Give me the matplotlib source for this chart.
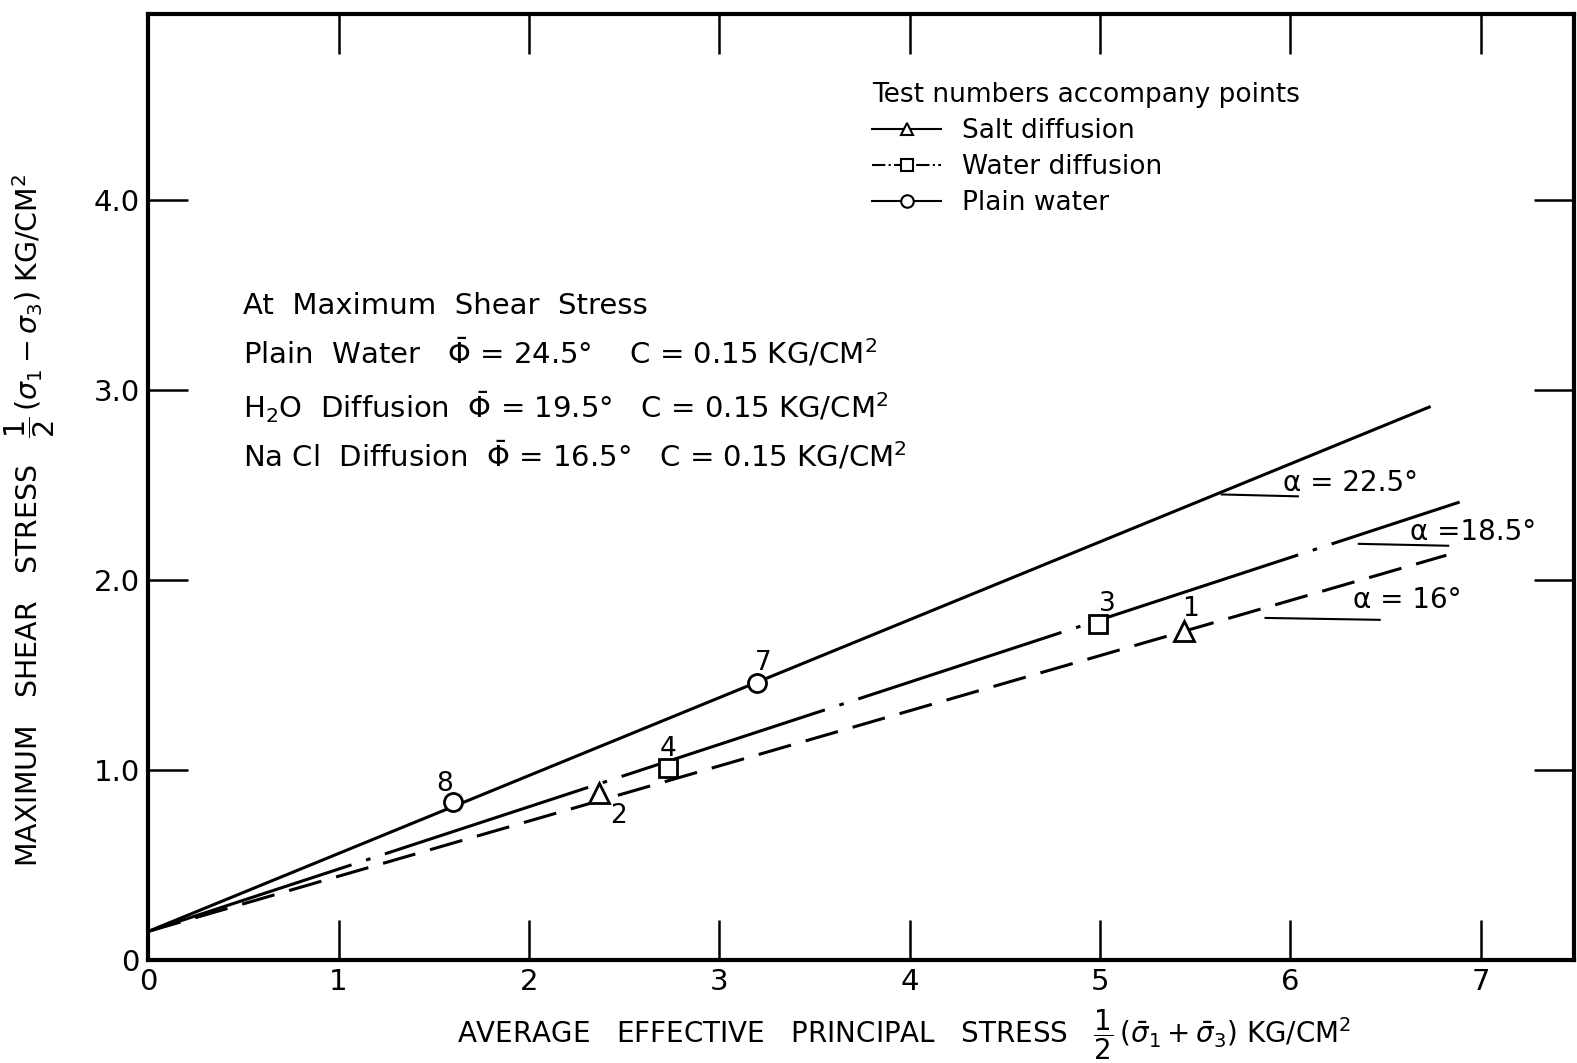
import matplotlib
matplotlib.use('Agg')
import matplotlib.pyplot as plt
from matplotlib.lines import Line2D

plt.rcParams['font.family'] = ['DejaVu Sans']
plt.rcParams['mathtext.fontset'] = 'dejavusans'

# fitted lines (start / end)
water_x = [0.0, 6.73]
water_y = [0.15, 2.91]
h2o_x = [0.0, 6.89]
h2o_y = [0.15, 2.41]
salt_x = [0.0, 6.82]
salt_y = [0.15, 2.13]

# test points
plain_pts_x = [1.60, 3.20]
plain_pts_y = [0.83, 1.46]
plain_tests = ['8', '7']
h2o_pts_x = [2.73, 4.99]
h2o_pts_y = [1.01, 1.77]
h2o_tests = ['4', '3']
salt_pts_x = [2.37, 5.44]
salt_pts_y = [0.88, 1.73]
salt_tests = ['2', '1']

alpha_labels = ['α = 22.5°', 'α =18.5°', 'α = 16°']

# label offsets from the markers (points)
plain_off = [(-6, 13), (4, 14)]
h2o_off = [(0, 14), (7, 14)]
salt_off = [(14, -17), (5, 16)]

fig = plt.figure(figsize=(15.77, 10.63), dpi=100)
ax = fig.add_axes([0.094, 0.097, 0.904, 0.89])

ax.plot(water_x, water_y, color='k', lw=2.2, zorder=2)
ax.plot(h2o_x, h2o_y, color='k', lw=2.2, dashes=(70, 5, 1.5, 5), zorder=2)
ax.plot(salt_x, salt_y, color='k', lw=2.2, dashes=(11, 5), zorder=2)

ax.plot(plain_pts_x, plain_pts_y, 'o', ms=13, mfc='white', mec='k', mew=2, zorder=3)
ax.plot(h2o_pts_x, h2o_pts_y, 's', ms=13, mfc='white', mec='k', mew=2, zorder=3)
ax.plot(salt_pts_x, salt_pts_y, '^', ms=14, mfc='white', mec='k', mew=2, zorder=3)

for xs, ys, labs, offs in [(plain_pts_x, plain_pts_y, plain_tests, plain_off),
                           (h2o_pts_x, h2o_pts_y, h2o_tests, h2o_off),
                           (salt_pts_x, salt_pts_y, salt_tests, salt_off)]:
    for x, y, t, o in zip(xs, ys, labs, offs):
        ax.annotate(t, (x, y), xytext=o, textcoords='offset points',
                    ha='center', va='center', fontsize=19)

# angle notes
ax.plot([5.64, 6.04], [2.45, 2.44], color='k', lw=1.5)
ax.text(5.96, 2.47, alpha_labels[0], fontsize=20)
ax.plot([6.36, 6.83], [2.19, 2.18], color='k', lw=1.5)
ax.text(6.63, 2.21, alpha_labels[1], fontsize=20)
ax.plot([5.87, 6.47], [1.80, 1.79], color='k', lw=1.5)
ax.text(6.33, 1.85, alpha_labels[2], fontsize=20)

# strength parameters
ax.text(0.5, 3.40, 'At  Maximum  Shear  Stress', fontsize=21)
ax.text(0.5, 3.137, r'Plain  Water   $\bar{\Phi}$ = 24.5°    C = 0.15 KG/CM$^2$', fontsize=21)
ax.text(0.5, 2.853, r'H$_2$O  Diffusion  $\bar{\Phi}$ = 19.5°   C = 0.15 KG/CM$^2$', fontsize=21)
ax.text(0.5, 2.595, r'Na Cl  Diffusion  $\bar{\Phi}$ = 16.5°   C = 0.15 KG/CM$^2$', fontsize=21)

handles = [
    Line2D([], [], color='k', lw=1.5, ls='-', marker='^', ms=8, mfc='white', mew=1.5),
    Line2D([], [], color='k', lw=1.5, ls='-.', marker='s', ms=8, mfc='white', mew=1.5),
    Line2D([], [], color='k', lw=1.5, ls='-', marker='o', ms=9, mfc='white', mew=1.5),
]
leg = ax.legend(handles, ['Salt diffusion', 'Water diffusion', 'Plain water'],
                title='Test numbers accompany points', title_fontsize=19, fontsize=19,
                loc='upper left', bbox_to_anchor=(0.508, 0.928), frameon=False,
                borderpad=0, borderaxespad=0, handlelength=2.6, handletextpad=0.8,
                labelspacing=0.38, alignment='left')

ax.set_xlim(0, 7.49)
ax.set_ylim(0, 4.98)
ax.set_xticks(range(8))
ax.set_xticklabels([str(i) for i in range(8)])
ax.set_yticks([0, 1, 2, 3, 4])
ax.set_yticklabels(['0', '1.0', '2.0', '3.0', '4.0'])
ax.tick_params(direction='in', length=29, width=1.8, labelsize=21,
               top=True, right=True, pad=6)

for s in ax.spines.values():
    s.set_linewidth(3)

ax.set_xlabel(r'AVERAGE   EFFECTIVE   PRINCIPAL   STRESS   $\dfrac{1}{2}\,(\bar{\sigma}_1 + \bar{\sigma}_3)$ KG/CM$^2$',
              fontsize=20)
ax.xaxis.set_label_coords(0.53, -0.05)
ax.set_ylabel(r'MAXIMUM   SHEAR   STRESS   $\dfrac{1}{2}\,(\sigma_1 - \sigma_3)$ KG/CM$^2$', fontsize=20.5)
ax.yaxis.set_label_coords(-0.064, 0.465)

fig.savefig('out.png', dpi=100)
